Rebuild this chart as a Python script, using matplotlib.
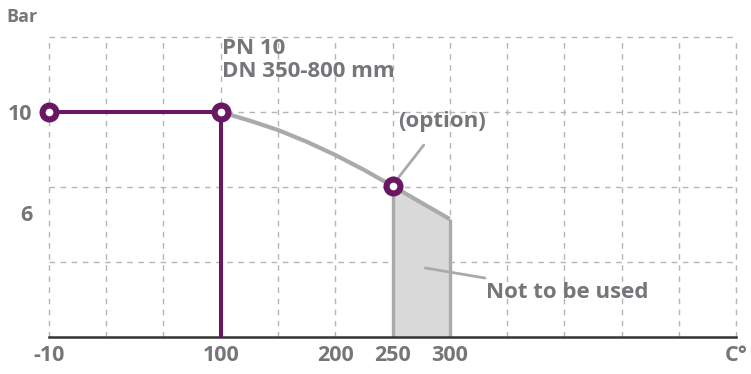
import matplotlib
matplotlib.use('Agg')
import matplotlib.pyplot as plt
import numpy as np

plt.rcParams['font.family'] = ['Open Sans', 'DejaVu Sans']

# temperature axis is not linear: anchors (temp -> grid step)
scale_temps = [-10, 100, 200, 550]
scale_steps = [0, 3, 5, 12]

# PN 10 limit line (purple)
pn_temp = [-10, 100]
pn_bar = [10, 10]
# derating curve (grey)
curve_temp = [100, 125, 150, 175, 200, 225, 250, 300]
curve_bar = [10, 9.62, 9.2, 8.68, 8.09, 7.43, 6.71, 5.24]
# marked points
pt_temp = [-10, 100, 250]
pt_bar = [10, 10, 6.71]

grid_temps = [-10, 26.67, 63.33, 100, 150, 200, 250, 300, 350, 400, 450, 500, 550]
xtick_pos = [-10, 100, 200, 250, 300, 550]
xtick_labels = ['-10', '100', '200', '250', '300', 'C°']
ygrid = [0, 10/3, 20/3, 10, 40/3]
ytick_pos = [10, 5.5]
ytick_labels = ['10', '6']

purple = '#6a1763'
grey = '#aaaaaa'
txt = '#76767a'


def fwd(x):
    x = np.asarray(x, dtype=float)
    y = np.interp(x, scale_temps, scale_steps)
    y = np.where(x > scale_temps[-1], scale_steps[-1] + (x - scale_temps[-1]) / 50, y)
    y = np.where(x < scale_temps[0], (x - scale_temps[0]) / (110 / 3), y)
    return y


def inv(y):
    y = np.asarray(y, dtype=float)
    x = np.interp(y, scale_steps, scale_temps)
    x = np.where(y > scale_steps[-1], scale_temps[-1] + (y - scale_steps[-1]) * 50, x)
    x = np.where(y < scale_steps[0], scale_temps[0] + y * (110 / 3), x)
    return x


fig = plt.figure(figsize=(7.51, 3.74), dpi=100)
ax = fig.add_axes([49 / 751, 37 / 374, 687 / 751, 300 / 374])
ax.set_xscale('function', functions=(fwd, inv))
ax.set_xlim(-10, 550)
ax.set_ylim(0, 40 / 3)

for g in grid_temps:
    ax.axvline(g, color='#b5b5b5', lw=1, dashes=(4, 4), zorder=0, clip_on=False)
for g in ygrid[1:]:
    ax.axhline(g, color='#b5b5b5', lw=1, dashes=(4, 4), zorder=0, clip_on=False)

for s in ['top', 'right', 'left']:
    ax.spines[s].set_visible(False)
ax.spines['bottom'].set_color('#333333')
ax.spines['bottom'].set_linewidth(1.8)

ax.set_xticks(xtick_pos)
ax.set_xticklabels(xtick_labels)
ax.set_yticks(ytick_pos)
ax.set_yticklabels(ytick_labels)
ax.xaxis.set_minor_locator(matplotlib.ticker.NullLocator())
ax.tick_params(length=0, labelsize=15.5, labelcolor=txt)
ax.tick_params(axis='x', pad=6)
ax.tick_params(axis='y', pad=12)
for lab in ax.get_xticklabels() + ax.get_yticklabels():
    lab.set_fontweight('bold')

# not-to-be-used zone
fill_t = curve_temp[-2:]
fill_b = curve_bar[-2:]
ax.fill_between(fill_t, 0, fill_b, color='#d9d9d9', lw=0, zorder=1)
ax.vlines(fill_t, 0, fill_b, color=grey, lw=2.4, zorder=2)
ax.plot(curve_temp, curve_bar, color=grey, lw=3, zorder=2, solid_capstyle='butt')

ax.plot(pn_temp, pn_bar, color=purple, lw=2.9, zorder=3)
ax.vlines(pn_temp[-1], 0, pn_bar[-1], color=purple, lw=2.9, zorder=3)
ax.plot(pt_temp, pt_bar, 'o', ms=10, mew=4.4, mfc='white', mec=purple, zorder=4, clip_on=False)

ax.text(101, 12.3, 'PN 10\nDN 350-800 mm', fontsize=16, fontweight='bold', color=txt,
        va='center', ha='left', linespacing=1.15)
ax.annotate('(option)', xy=(255.6, 7.11), xytext=(293, 9.56), fontsize=16, fontweight='bold',
            color=txt, ha='center', va='center',
            arrowprops=dict(arrowstyle='-', color=grey, lw=2, shrinkA=9, shrinkB=0))
ax.annotate('Not to be used', xy=(278.5, 3.07), xytext=(332, 2.0), fontsize=16, fontweight='bold',
            color=txt, ha='left', va='center',
            arrowprops=dict(arrowstyle='-', color=grey, lw=2, shrinkA=3, shrinkB=0))

fig.text(6 / 751, 1 - 17 / 374, 'Bar', fontsize=13, fontweight='bold', color=txt, va='center')

fig.savefig('out.png', dpi=100)
